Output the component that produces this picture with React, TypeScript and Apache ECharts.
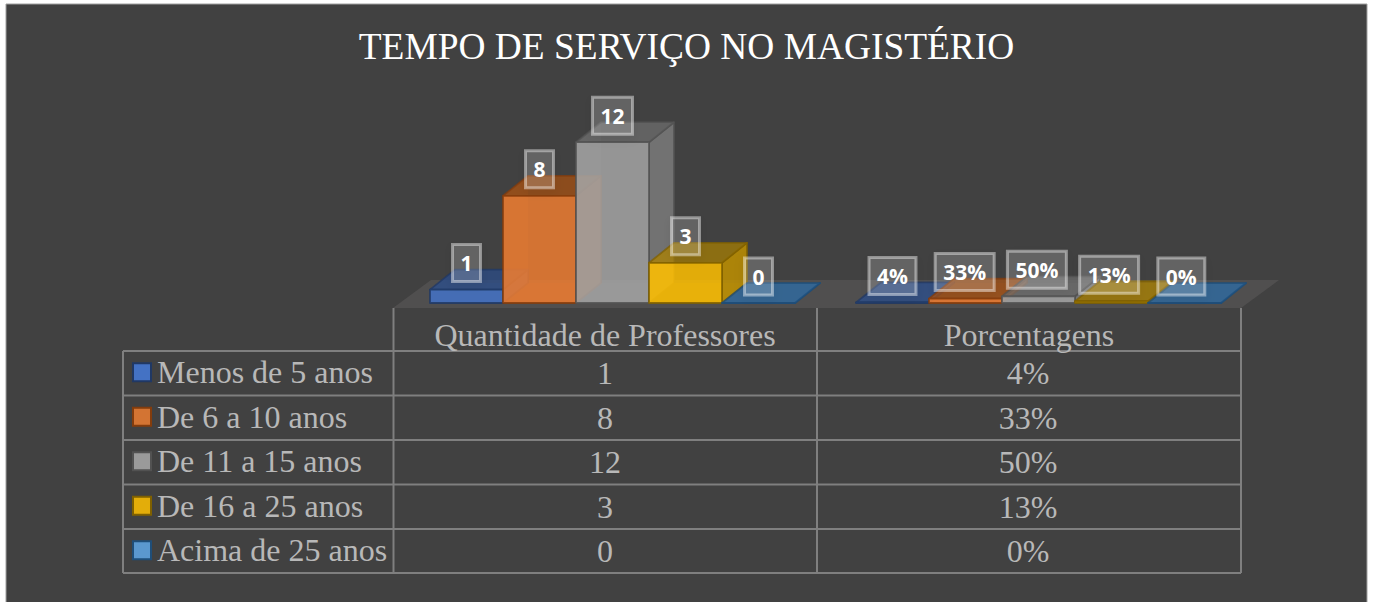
import React, { useEffect, useRef } from "react";
import * as echarts from "echarts";

const titleText = "TEMPO DE SERVIÇO NO MAGISTÉRIO";
const groupNames = ["Quantidade de Professores", "Porcentagens"];
const seriesNames = ["Menos de 5 anos", "De 6 a 10 anos", "De 11 a 15 anos", "De 16 a 25 anos", "Acima de 25 anos"];
const quantidade = [1, 8, 12, 3, 0];
const porcentagens = [4, 33, 50, 13, 0];

const fills = ["#4472c4", "#ed7d31", "#a5a5a5", "#ffc000", "#5b9bd5"];
const swatchFills = ["#4472c4", "#d37433", "#9a9a9a", "#e3ad0a", "#5b98cf"];
const edges = ["#203864", "#843c0c", "#525252", "#7f6000", "#1f4e79"];
const tops = ["#2a4c8a", "#a9500f", "#6f6f6f", "#a98000", "#2b6aa3"];
const sides = ["#2f5597", "#b5530f", "#7b7b7b", "#bf9000", "#2e75b6"];

const BG = "#414141";
const LINE = "#7f7f7f";
const TEXT = "#b8b8b8";
const TABLE_FONT = "32px 'Liberation Serif'";
const DX = 25;
const DY = -20;
const BAR_SHARE = 73 / 426;

const colX = [393.5, 817, 1241];
const rowY = [351, 395.6, 440, 484.5, 529, 573];

function tableGraphics() {
  const els: any[] = [];
  const line = (x1: number, y1: number, x2: number, y2: number) => ({
    type: "line",
    z: 1,
    silent: true,
    shape: { x1, y1, x2, y2 },
    style: { stroke: LINE, lineWidth: 2 },
  });
  els.push({
    type: "rect",
    z: -3,
    silent: true,
    shape: { x: 6, y: 4, width: 1361, height: 600 },
    style: { fill: BG, stroke: "#a0a0a0", lineWidth: 1 },
  });
  els.push({
    type: "polygon",
    z: -2,
    silent: true,
    shape: { points: [[393, 308], [431, 280], [1279, 280], [1241, 308]] },
    style: { fill: "#504f4f" },
  });
  rowY.forEach((y) => els.push(line(123, y, colX[2], y)));
  colX.forEach((x) => els.push(line(x, 308, x, rowY[5])));
  els.push(line(123, rowY[0], 123, rowY[5]));
  const text = (t: string, x: number, y: number) => ({
    type: "text",
    z: 2,
    silent: true,
    x,
    y,
    style: { text: t, fill: TEXT, font: TABLE_FONT, textAlign: "center", textVerticalAlign: "middle" },
  });
  const centers = [605, 1029];
  groupNames.forEach((g, i) => els.push(text(g, centers[i], 335)));
  seriesNames.forEach((_, r) => {
    const y = (rowY[r] + rowY[r + 1]) / 2;
    els.push(text(String(quantidade[r]), centers[0], y));
    els.push(text(porcentagens[r] + "%", centers[1] - 1, y));
  });
  return els;
}

function makeRenderItem(s: number) {
  return (params: any, api: any) => {
    const cat = api.value(0);
    const val = api.value(1);
    const full = api.size([1, 0])[0];
    const w = full * BAR_SHARE;
    const base = api.coord([cat, 0]);
    const top = api.coord([cat, val]);
    const x0 = base[0] + (s - 2.5) * w;
    const x1 = x0 + w;
    const yb = base[1];
    const yt = top[1];
    const edge = { stroke: edges[s], lineWidth: 1.8, lineJoin: "round" };
    const poly = (pts: number[][], fill: string, opacity: number, stroke = true) => ({
      type: "polygon",
      shape: { points: pts },
      style: { fill, opacity, ...(stroke ? edge : {}) },
    });
    const label = cat === 0 ? String(quantidade[s]) : porcentagens[s] + "%";
    const labelX = (x0 + x1) / 2 - (cat === 0 ? 0 : 0.8 * s);
    return {
      type: "group",
      children: [
        poly([[x0, yb], [x1, yb], [x1 + DX, yb + DY], [x0 + DX, yb + DY]], fills[s], 0.14, false),
        poly([[x0, yb], [x0 + DX, yb + DY], [x0 + DX, yt + DY], [x0, yt]], fills[s], 0.14, false),
        poly([[x1, yb], [x1 + DX, yb + DY], [x1 + DX, yt + DY], [x1, yt]], sides[s], 0.85),
        poly([[x0, yt], [x1, yt], [x1 + DX, yt + DY], [x0 + DX, yt + DY]], tops[s], 0.72),
        poly([[x0, yb], [x1, yb], [x1, yt], [x0, yt]], fills[s], 0.85),
        {
          type: "text",
          z2: 50,
          x: labelX,
          y: yt - 26.5,
          style: {
            text: label,
            fill: "#ffffff",
            font: "bold 21px 'Open Sans'",
            textAlign: "center",
            textVerticalAlign: "middle",
            backgroundColor: "rgba(255,255,255,0.17)",
            borderColor: "rgba(255,255,255,0.42)",
            borderWidth: 1.5,
            padding: [8, 8, 8, 8],
            shadowBlur: 10,
            shadowColor: "rgba(0,0,0,0.18)",
            shadowOffsetY: 3,
          },
        },
      ],
    };
  };
}

export default function App() {
  const ref = useRef<HTMLDivElement>(null);
  useEffect(() => {
    const chart = echarts.init(ref.current!, undefined, { renderer: "svg" });
    chart.setOption({
      animation: false,
      backgroundColor: "#ffffff",
      title: {
        text: titleText,
        left: "center",
        top: 23,
        textStyle: { color: "#ffffff", fontFamily: "'Liberation Serif'", fontWeight: "normal", fontSize: 37.4 },
      },
      legend: {
        show: true,
        orient: "vertical",
        left: 132,
        top: 350,
        padding: 0,
        itemGap: 0,
        itemWidth: 18,
        itemHeight: 18,
        icon: "rect",
        selectedMode: false,
        data: seriesNames,
        textStyle: {
          color: TEXT,
          fontFamily: "'Liberation Serif'",
          fontSize: 32,
          lineHeight: 44.5,
          padding: [0, 0, 0, 1],
        },
      },
      grid: { left: 399.5, width: 852, top: 102, height: 201 },
      xAxis: { type: "category", data: groupNames, show: false },
      yAxis: { type: "value", min: 0, max: 15, show: false },
      graphic: { elements: tableGraphics() },
      series: seriesNames.map((name, s) => ({
        type: "custom",
        name,
        z: 3 + s,
        clip: false,
        renderItem: makeRenderItem(s),
        itemStyle: { color: swatchFills[s], borderColor: edges[s], borderWidth: 2 },
        encode: { x: 0, y: 1 },
        data: [
          [0, quantidade[s]],
          [1, porcentagens[s] / 100],
        ],
      })),
    });
    return () => chart.dispose();
  }, []);
  return <div ref={ref} style={{ position: "absolute", left: 0, top: 0, width: 1373, height: 602 }} />;
}
